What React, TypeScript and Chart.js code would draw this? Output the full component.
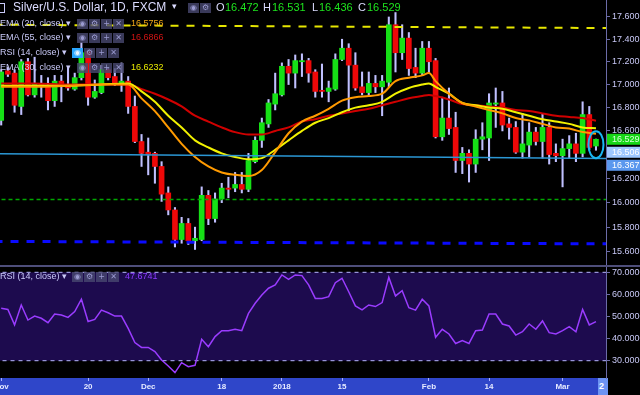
import React, { useEffect, useRef } from "react";
import { Chart, registerables } from "chart.js";

Chart.register(...registerables);

const FONT = "'Liberation Sans', Arial, sans-serif";

// ---- Daily candles, Nov 1 2017 .. Mar 8 2018 (index = trading day) ----
const opens = [16.69, 17.12, 17.1, 16.81, 17.2, 16.91, 17.01, 16.98, 16.86, 17.03, 17.0, 16.96, 17.06, 17.29, 16.89, 16.93, 17.13, 17.07, 17.01, 17.03,
  16.81, 16.51, 16.42, 16.41, 16.3, 16.08, 15.94, 15.7, 15.83, 15.69, 15.7, 16.06, 15.87, 16.03, 16.12, 16.12, 16.15, 16.11, 16.34, 16.52,
  16.66, 16.83, 16.91, 17.16, 17.1, 17.2, 17.21, 17.11, 16.95, 16.94, 16.96, 17.22, 17.32, 17.17, 16.98, 16.93, 17.01, 16.98, 17.02, 17.53,
  17.28, 17.41, 17.15, 17.1, 17.32, 17.21, 16.55, 16.71, 16.63, 16.35, 16.41, 16.32, 16.53, 16.54, 16.83, 16.84, 16.66, 16.63, 16.42, 16.48,
  16.59, 16.51, 16.63, 16.41, 16.39, 16.45, 16.49, 16.41, 16.74, 16.472];
const highs = [17.13, 17.15, 17.13, 17.22, 17.23, 17.24, 17.08, 17.06, 17.08, 17.08, 17.15, 17.1, 17.37, 17.3, 17.04, 17.17, 17.15, 17.14, 17.19, 17.07,
  16.9, 16.57, 16.54, 16.42, 16.34, 16.13, 15.96, 15.88, 15.87, 15.8, 16.13, 16.1, 16.08, 16.16, 16.21, 16.25, 16.25, 16.41, 16.55, 16.71,
  16.87, 17.1, 17.19, 17.22, 17.26, 17.27, 17.23, 17.13, 17.18, 17.03, 17.27, 17.4, 17.36, 17.28, 17.11, 17.11, 17.08, 17.08, 17.6, 17.64,
  17.53, 17.46, 17.32, 17.38, 17.38, 17.23, 16.89, 16.97, 16.76, 16.46, 16.44, 16.61, 16.67, 16.92, 16.97, 16.94, 16.71, 16.68, 16.75, 16.67,
  16.63, 16.75, 16.67, 16.49, 16.53, 16.56, 16.58, 16.85, 16.81, 16.531];
const lows = [16.65, 17.07, 16.76, 16.74, 16.9, 16.89, 16.89, 16.78, 16.81, 16.85, 16.95, 16.95, 17.04, 16.82, 16.88, 16.92, 17.04, 16.99, 16.94, 16.75,
  16.5, 16.3, 16.23, 16.16, 16.01, 15.9, 15.64, 15.67, 15.66, 15.62, 15.69, 15.82, 15.84, 16.0, 16.04, 16.09, 16.08, 16.09, 16.33, 16.46,
  16.63, 16.78, 16.9, 17.0, 16.97, 17.07, 17.02, 16.89, 16.89, 16.85, 16.95, 17.21, 16.77, 16.95, 16.91, 16.91, 16.93, 16.73, 16.98, 17.11,
  17.22, 17.08, 17.06, 17.08, 17.1, 16.54, 16.52, 16.57, 16.25, 16.24, 16.17, 16.25, 16.44, 16.35, 16.63, 16.6, 16.53, 16.41, 16.37, 16.38,
  16.48, 16.37, 16.32, 16.34, 16.13, 16.37, 16.34, 16.38, 16.44, 16.436];
const closes = [17.11, 17.09, 16.82, 17.2, 16.91, 17.01, 16.99, 16.86, 17.03, 17.0, 16.97, 17.06, 17.28, 16.89, 16.94, 17.13, 17.06, 17.01, 17.03, 16.81,
  16.51, 16.41, 16.4, 16.3, 16.07, 15.94, 15.7, 15.83, 15.69, 15.71, 16.06, 15.87, 16.03, 16.12, 16.11, 16.15, 16.11, 16.35, 16.52, 16.67,
  16.84, 16.92, 17.16, 17.1, 17.21, 17.21, 17.1, 16.94, 16.94, 16.97, 17.22, 17.32, 17.17, 16.97, 16.93, 17.01, 16.98, 17.03, 17.53, 17.28,
  17.41, 17.14, 17.1, 17.32, 17.2, 16.55, 16.71, 16.62, 16.35, 16.41, 16.32, 16.53, 16.55, 16.84, 16.84, 16.65, 16.63, 16.42, 16.49, 16.59,
  16.51, 16.63, 16.4, 16.39, 16.45, 16.49, 16.41, 16.74, 16.46, 16.529];

// ---- EMA indicator values read at these bar indices ----
const emaIdx = [0, 5, 10, 15, 19, 21, 23, 25, 27, 29, 31, 33, 35, 37, 39, 41, 43, 45, 47, 49, 51, 53, 55, 57, 59, 61, 63, 64, 65, 67, 69, 71, 73, 75, 77, 79, 81, 83, 85, 87, 89];
const ema20 = [16.98, 16.98, 16.99, 17.0, 17.0, 16.88, 16.77, 16.63, 16.49, 16.38, 16.3, 16.25, 16.23, 16.22, 16.27, 16.42, 16.58, 16.68, 16.73, 16.79, 16.86,
  16.89, 16.9, 16.92, 17.03, 17.06, 17.08, 17.1, 17.03, 16.92, 16.84, 16.81, 16.78, 16.75, 16.71, 16.69, 16.66, 16.63, 16.62, 16.59, 16.5756];
const ema30 = [16.99, 16.99, 16.99, 17.0, 17.01, 16.94, 16.85, 16.73, 16.63, 16.52, 16.46, 16.41, 16.38, 16.36, 16.37, 16.44, 16.52, 16.6, 16.67, 16.71, 16.76,
  16.8, 16.82, 16.85, 16.92, 16.97, 17.0, 17.01, 16.98, 16.92, 16.84, 16.82, 16.8, 16.79, 16.76, 16.73, 16.7, 16.68, 16.66, 16.63, 16.6232];
const ema55 = [17.01, 17.01, 17.0, 17.0, 17.0, 16.96, 16.92, 16.87, 16.81, 16.73, 16.68, 16.63, 16.59, 16.57, 16.57, 16.6, 16.63, 16.68, 16.7, 16.73, 16.75,
  16.77, 16.79, 16.82, 16.85, 16.88, 16.9, 16.91, 16.9, 16.87, 16.83, 16.82, 16.81, 16.8, 16.78, 16.77, 16.75, 16.73, 16.72, 16.71, 16.6866];

// ---- RSI(14) per bar ----
const rsi = [53.7, 53.2, 46.2, 55.2, 48.4, 50.2, 49.2, 47.2, 51.1, 50.7, 49.6, 52.2, 57.8, 47.7, 48.7, 52.9, 51.7, 50.2, 50.2, 44.6,
  38.2, 36.0, 36.0, 34.1, 30.3, 27.6, 24.6, 29.1, 27.3, 27.9, 39.7, 36.3, 40.9, 43.6, 43.6, 44.2, 43.6, 51.4, 56.0, 59.7,
  62.8, 64.3, 68.8, 66.8, 68.8, 68.5, 64.3, 58.2, 58.2, 59.0, 65.3, 67.3, 61.2, 54.8, 53.0, 55.2, 54.5, 56.3, 67.7, 59.3,
  61.7, 54.0, 52.9, 57.8, 54.8, 40.6, 44.2, 42.1, 37.8, 39.1, 37.8, 43.6, 43.9, 51.1, 51.1, 46.6, 45.7, 41.6, 43.1, 46.6,
  44.2, 48.0, 42.7, 42.1, 43.6, 45.4, 43.1, 53.2, 46.2, 47.6741];
const rsiUpper = 70;
const rsiLower = 30;

// ---- drawn levels (start value, end value) ----
const resistanceLine = [17.53, 17.5];
const supportGreen = [16.025, 16.025];
const supportBlue = [15.685, 15.665];
const trendLine = [16.406, 16.367];

// ---- axes ----
const priceTicks = [15.6, 15.8, 16.0, 16.2, 16.4, 16.6, 16.8, 17.0, 17.2, 17.4, 17.6];
const rsiTicks = [30, 40, 50, 60, 70];
const timeTickIdx = [0, 13, 22, 33, 42, 51, 64, 73, 84];
const timeTickText = ["Nov", "20", "Dec", "18", "2018", "15", "Feb", "14", "Mar"];
const axisMarkValues = [16.529, 16.506, 16.367];
const axisMarkBg = ["#17d617", "#9ec8ff", "#5b98ee"];
const axisMarkFg = ["#d8ffd8", "#ffffff", "#ffffff"];

const X_MIN = -0.18;
const X_MAX = 90.5;
const P_MIN = 15.488;
const P_MAX = 17.754;
const R_MIN = 22.17;
const R_MAX = 72.4;

const AXIS_COL = "#6c6ca8";
const LABEL_COL = "#c8c8f6";

const fixRightAxis = (s: any) => {
  s.width = 34;
  s.paddingTop = 0;
  s.paddingBottom = 0;
};

const level = (v: number[]) => [
  { x: -1, y: v[0] },
  { x: 91, y: v[1] },
];

const mainOverlay = {
  id: "mainOverlay",
  afterDraw(chart: any) {
    const { ctx, chartArea } = chart;
    const x = chart.scales.x;
    const y = chart.scales.y;
    const last = opens.length - 1;
    ctx.save();
    const cx = x.getPixelForValue(last);
    const cy = y.getPixelForValue((highs[last] + lows[last]) / 2);
    ctx.strokeStyle = "#19b6f2";
    ctx.lineWidth = 2;
    ctx.beginPath();
    ctx.ellipse(cx, cy, 7.5, 13.5, 0, 0, Math.PI * 2);
    ctx.stroke();
    ctx.font = `9px ${FONT}`;
    ctx.textBaseline = "middle";
    ctx.textAlign = "left";
    let prevBottom = -1e9;
    axisMarkValues.forEach((v, k) => {
      const h = 11;
      const top = Math.max(y.getPixelForValue(v) - h / 2, prevBottom + 2);
      ctx.fillStyle = axisMarkBg[k];
      ctx.fillRect(chartArea.right + 1, top, 640 - chartArea.right, h);
      ctx.fillStyle = axisMarkFg[k];
      ctx.fillText(v.toFixed(3), chartArea.right + 6, top + h / 2 + 0.5);
      prevBottom = top + h;
    });
    ctx.restore();
  },
};

const rsiBand = {
  id: "rsiBand",
  beforeDatasetsDraw(chart: any) {
    const { ctx, chartArea } = chart;
    const y = chart.scales.y;
    const t = y.getPixelForValue(rsiUpper);
    const b = y.getPixelForValue(rsiLower);
    ctx.save();
    ctx.fillStyle = "#1d0b4e";
    ctx.fillRect(chartArea.left, t, chartArea.right - chartArea.left, b - t);
    ctx.restore();
  },
};

function mainConfig(): any {
  const bodies = opens.map((o, i) => ({ x: i, y: [o, closes[i]] }));
  const wicks = opens.map((_, i) => ({ x: i, y: [lows[i], highs[i]] }));
  const bodyColors = opens.map((o, i) => (closes[i] >= o ? "#16e016" : "#ee0808"));
  const emaLine = (vals: number[], color: string, order: number) => ({
    type: "line",
    data: emaIdx.map((x, k) => ({ x, y: vals[k] })),
    borderColor: color,
    borderWidth: 2,
    pointRadius: 0,
    cubicInterpolationMode: "monotone",
    order,
  });
  return {
    type: "bar",
    data: {
      datasets: [
        { type: "line", data: level(trendLine), borderColor: "#2b97d4", borderWidth: 1.5, pointRadius: 0, order: 0 },
        { type: "line", data: level(resistanceLine), borderColor: "#e6e600", borderWidth: 2, borderDash: [8, 8], pointRadius: 0, order: 0 },
        { type: "line", data: level(supportGreen), borderColor: "#00a800", borderWidth: 1.5, borderDash: [4, 3], pointRadius: 0, order: 0 },
        { type: "line", data: level(supportBlue), borderColor: "#0a0aff", borderWidth: 3, borderDash: [8, 8], pointRadius: 0, order: 0 },
        emaLine(ema20, "#ff9a00", 1),
        emaLine(ema30, "#f2f200", 2),
        emaLine(ema55, "#d00000", 3),
        { type: "bar", data: bodies, backgroundColor: bodyColors, barThickness: 5, grouped: false, minBarLength: 1, order: 5 },
        { type: "bar", data: wicks, backgroundColor: "#c0c0ff", barThickness: 1.4, grouped: false, order: 6 },
      ],
    },
    options: {
      responsive: false,
      animation: false,
      devicePixelRatio: 1,
      layout: { padding: 0 },
      plugins: { legend: { display: false }, tooltip: { enabled: false } },
      scales: {
        x: { type: "linear", min: X_MIN, max: X_MAX, offset: false, display: false, grid: { offset: false } },
        y: {
          type: "logarithmic",
          position: "right",
          min: P_MIN,
          max: P_MAX,
          bounds: "data",
          beginAtZero: false,
          afterBuildTicks: (s: any) => {
            s.ticks = priceTicks.map((v) => ({ value: v }));
          },
          afterFit: fixRightAxis,
          border: { display: true, color: AXIS_COL, width: 1 },
          grid: { display: true, drawOnChartArea: false, drawTicks: true, tickLength: 4, color: AXIS_COL },
          ticks: {
            padding: 2,
            color: LABEL_COL,
            font: { family: FONT, size: 9 },
            autoSkip: false,
            callback: (v: any) => Number(v).toFixed(3),
          },
        },
      },
    },
    plugins: [mainOverlay],
  };
}

function rsiConfig(): any {
  const flat = (v: number) => [
    { x: -1, y: v },
    { x: 91, y: v },
  ];
  return {
    type: "line",
    data: {
      datasets: [
        { data: rsi.map((v, i) => ({ x: i, y: v })), borderColor: "#9a3cff", borderWidth: 1.5, pointRadius: 0, tension: 0 },
        { data: flat(rsiUpper), borderColor: "#b8b8ff", borderWidth: 1, borderDash: [4, 4], pointRadius: 0 },
        { data: flat(rsiLower), borderColor: "#b8b8ff", borderWidth: 1, borderDash: [4, 4], pointRadius: 0 },
      ],
    },
    options: {
      responsive: false,
      animation: false,
      devicePixelRatio: 1,
      layout: { padding: 0 },
      plugins: { legend: { display: false }, tooltip: { enabled: false } },
      scales: {
        x: {
          type: "linear",
          position: "bottom",
          min: X_MIN,
          max: X_MAX,
          bounds: "data",
          afterBuildTicks: (s: any) => {
            s.ticks = timeTickIdx.map((v) => ({ value: v }));
          },
          afterFit: (s: any) => {
            s.height = 17;
            s.paddingLeft = 0;
            s.paddingRight = 0;
          },
          border: { display: false },
          grid: { display: true, drawOnChartArea: false, drawTicks: true, tickLength: 3, color: "#aab4ff" },
          ticks: {
            padding: 1,
            color: "#e6eaff",
            maxRotation: 0,
            autoSkip: false,
            font: { family: FONT, size: 8, weight: "bold" },
            callback: (v: any) => {
              const k = timeTickIdx.indexOf(Number(v));
              return k >= 0 ? timeTickText[k] : "";
            },
          },
        },
        y: {
          type: "linear",
          position: "right",
          min: R_MIN,
          max: R_MAX,
          bounds: "data",
          afterBuildTicks: (s: any) => {
            s.ticks = rsiTicks.map((v) => ({ value: v }));
          },
          afterFit: fixRightAxis,
          border: { display: true, color: AXIS_COL, width: 1 },
          grid: { display: true, drawOnChartArea: false, drawTicks: true, tickLength: 4, color: AXIS_COL },
          ticks: {
            padding: 2,
            color: LABEL_COL,
            font: { family: FONT, size: 9 },
            autoSkip: false,
            callback: (v: any) => Number(v).toFixed(4),
          },
        },
      },
    },
    plugins: [rsiBand],
  };
}

const txt = (left: number, top: number, text: string, color: string, size: number, extra: any = {}) => (
  <div
    style={{
      position: "absolute",
      left,
      top,
      color,
      fontSize: size,
      lineHeight: `${size + 2}px`,
      whiteSpace: "nowrap",
      fontFamily: FONT,
      ...extra,
    }}
  >
    {text}
  </div>
);

const ICONS = ["◉", "⚙", "+", "✕"];

const iconRow = (left: number, top: number, n: number, highlightFirst = false) => (
  <>
    {ICONS.slice(0, n).map((g, k) => (
      <div
        key={k}
        style={{
          position: "absolute",
          left: left + k * 12,
          top,
          width: 11,
          height: 10,
          background: highlightFirst && k === 0 ? "#2aa6ff" : "rgba(72,72,112,0.8)",
          color: highlightFirst && k === 0 ? "#e8f4ff" : "#9a9ad0",
          fontSize: 8,
          lineHeight: "10px",
          textAlign: "center",
          fontFamily: "'DejaVu Sans', sans-serif",
        }}
      >
        {g}
      </div>
    ))}
  </>
);

export default function App() {
  const mainRef = useRef<HTMLCanvasElement>(null);
  const rsiRef = useRef<HTMLCanvasElement>(null);

  useEffect(() => {
    document.body.style.margin = "0";
    document.body.style.background = "#000";
    const c1 = new Chart(mainRef.current as HTMLCanvasElement, mainConfig());
    const c2 = new Chart(rsiRef.current as HTMLCanvasElement, rsiConfig());
    return () => {
      c1.destroy();
      c2.destroy();
    };
  }, []);

  const G = "#1ee41e";
  const LEG = "#cacaf8";

  return (
    <div style={{ position: "relative", width: 640, height: 395, background: "#000", overflow: "hidden", fontFamily: FONT }}>
      <div style={{ position: "absolute", left: 0, top: 378, width: 598, height: 17, background: "#2f46c9" }} />
      <div
        style={{
          position: "absolute",
          left: 598,
          top: 378,
          width: 9,
          height: 17,
          background: "#6d93f2",
          color: "#fff",
          fontSize: 9,
          lineHeight: "17px",
          fontWeight: "bold",
          paddingLeft: 1,
        }}
      >
        2
      </div>
      <canvas ref={mainRef} width={640} height={266} style={{ position: "absolute", left: 0, top: 0 }} />
      <div style={{ position: "absolute", left: 0, top: 265, width: 640, height: 2, background: "#4e4e7a" }} />
      <canvas ref={rsiRef} width={640} height={128} style={{ position: "absolute", left: 0, top: 267 }} />

      {/* title row */}
      <div style={{ position: "absolute", left: -3, top: 3, width: 6, height: 8, border: `1px solid ${LEG}` }} />
      {txt(13, 0, "Silver/U.S. Dollar, 1D, FXCM", "#dcdcff", 12)}
      {txt(172, 1, "▾", "#dcdcff", 9, { fontFamily: "'DejaVu Sans', sans-serif" })}
      {iconRow(188, 3, 2)}
      {txt(216, 1, "O", "#dcdcff", 11)}
      {txt(225, 1, "16.472", G, 11)}
      {txt(263, 1, "H", "#dcdcff", 11)}
      {txt(272, 1, "16.531", G, 11)}
      {txt(312, 1, "L", "#dcdcff", 11)}
      {txt(319, 1, "16.436", G, 11)}
      {txt(358, 1, "C", "#dcdcff", 11)}
      {txt(367, 1, "16.529", G, 11)}

      {/* indicator legend rows */}
      {txt(0, 18, "EMA (20, close) ▾", LEG, 9)}
      {iconRow(77, 19, 4)}
      {txt(131, 18, "16.5756", "#f0a818", 9)}
      {txt(0, 32, "EMA (55, close) ▾", LEG, 9)}
      {iconRow(77, 33, 4)}
      {txt(131, 32, "16.6866", "#d01414", 9)}
      {txt(0, 47, "RSI (14, close) ▾", LEG, 9)}
      {iconRow(72, 48, 4, true)}
      {txt(0, 62, "EMA (30, close) ▾", LEG, 9)}
      {iconRow(77, 63, 4)}
      {txt(131, 62, "16.6232", "#e8e800", 9)}

      {/* RSI legend */}
      {txt(0, 271, "RSI (14, close) ▾", LEG, 9)}
      {iconRow(72, 272, 4)}
      {txt(125, 271, "47.6741", "#8c3cff", 9)}
    </div>
  );
}
